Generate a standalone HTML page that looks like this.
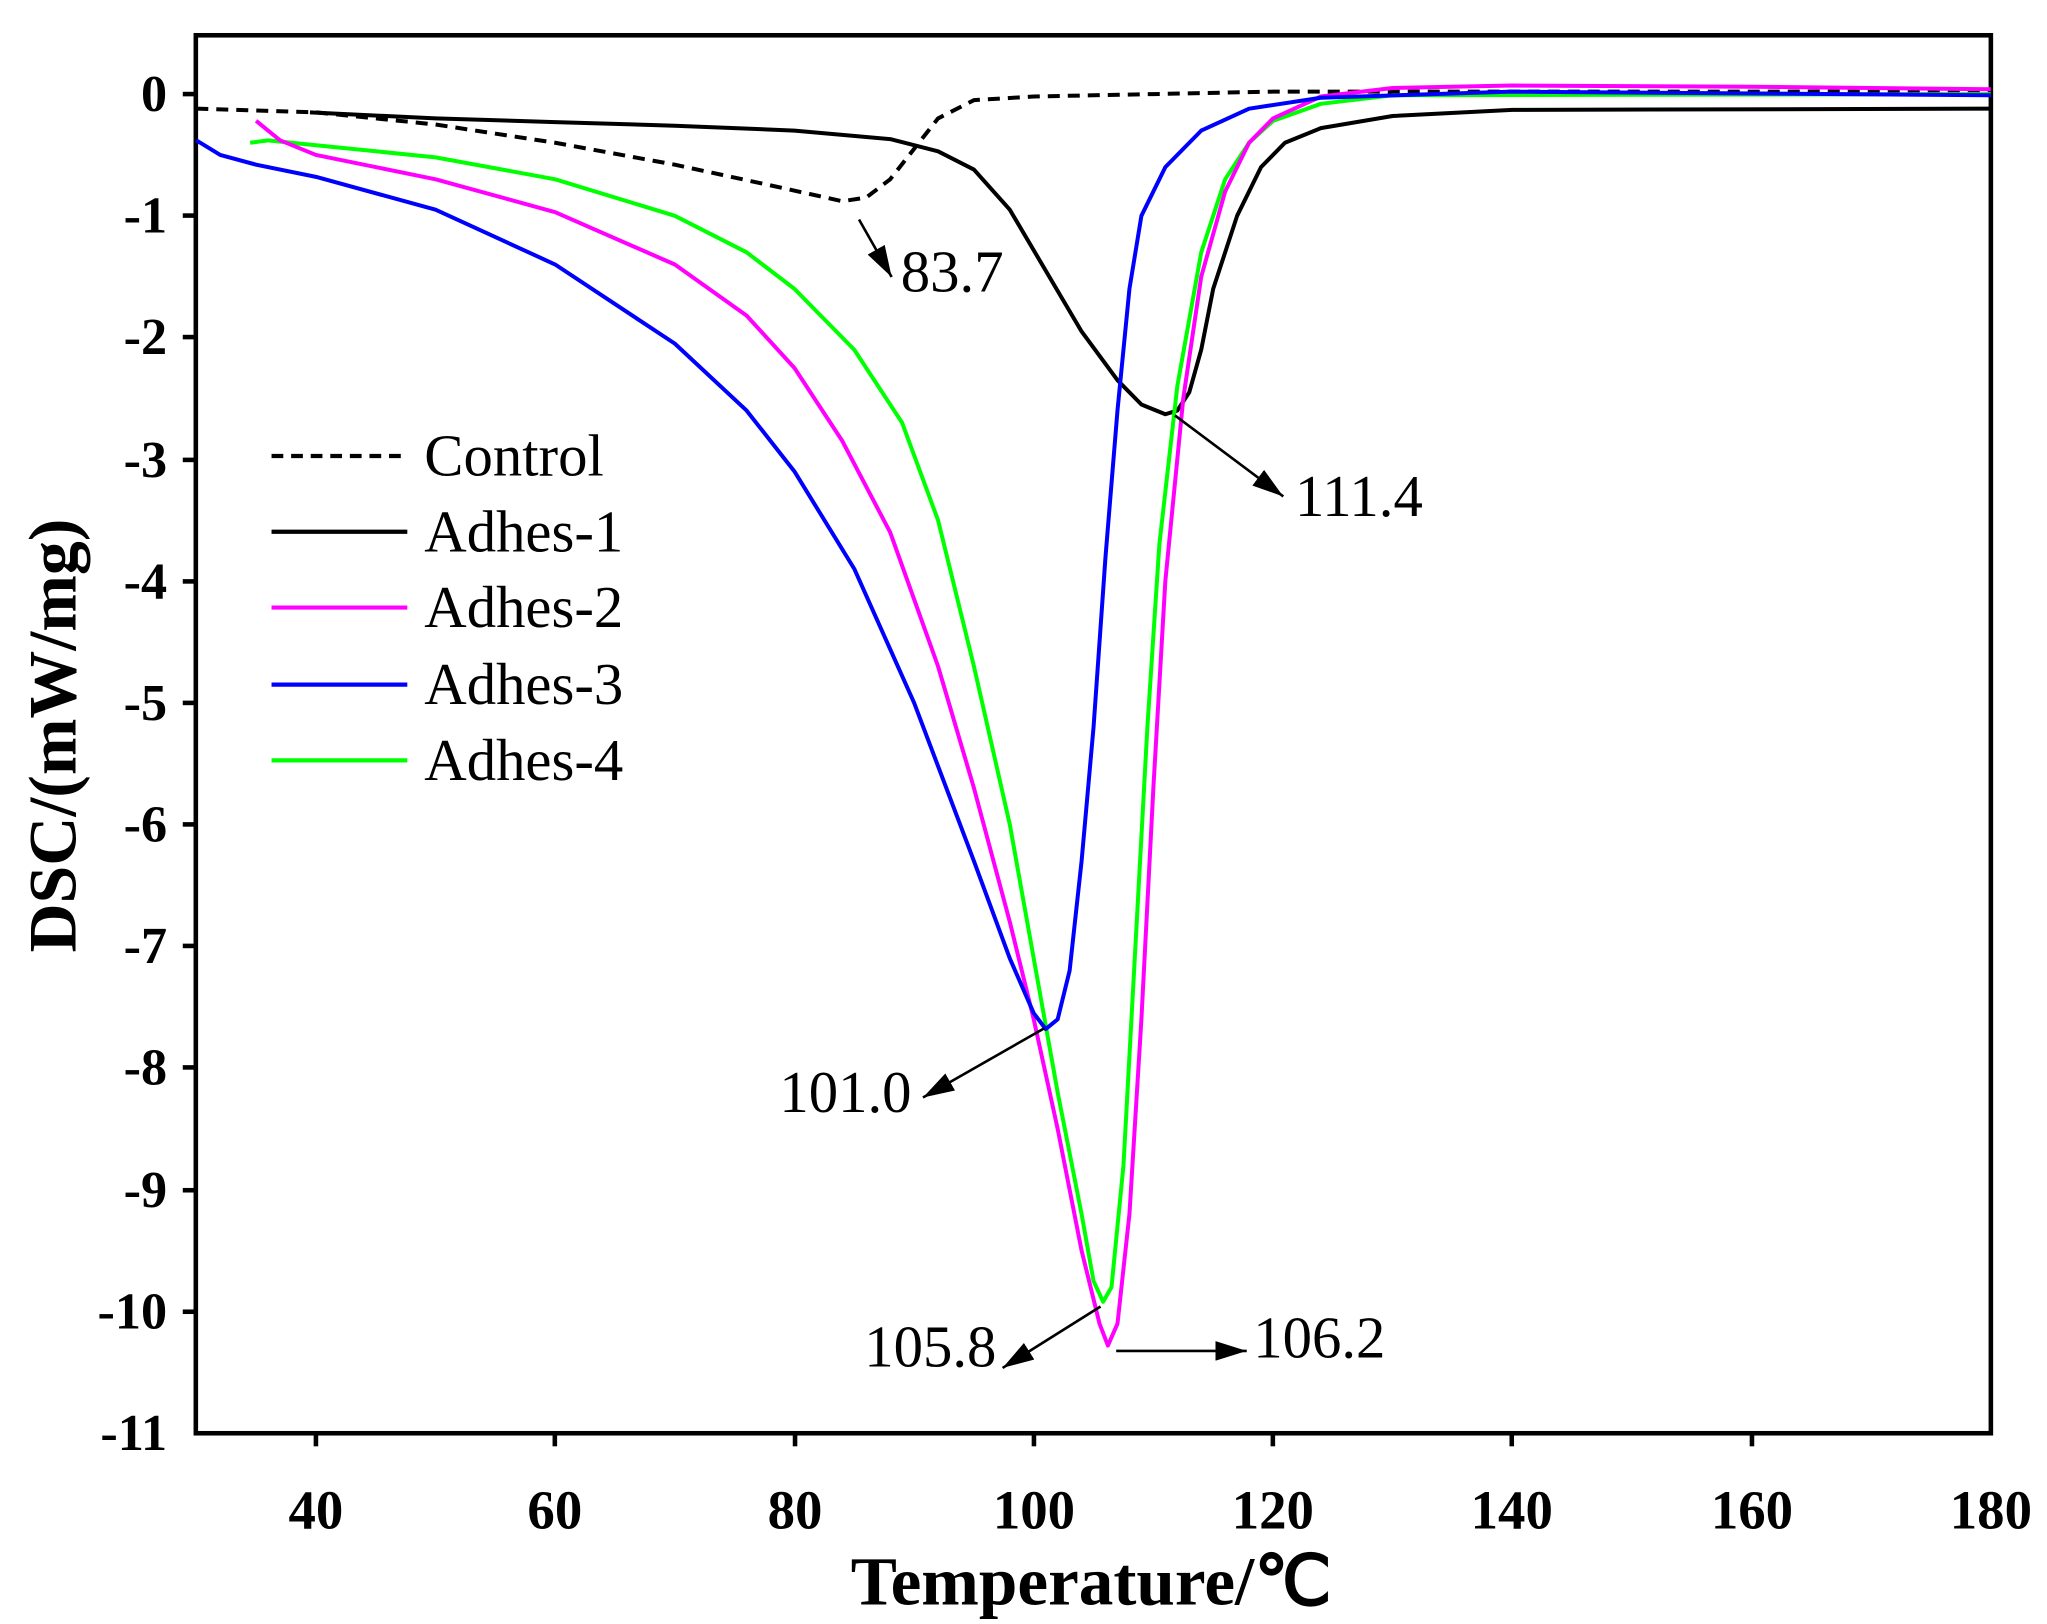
<!DOCTYPE html>
<html><head><meta charset="utf-8"><style>html,body{margin:0;padding:0;background:#fff}svg{display:block}</style></head><body>
<svg width="2047" height="1624" viewBox="0 0 1568 1243" preserveAspectRatio="none" xmlns="http://www.w3.org/2000/svg">
<defs>
<marker id="a2" viewBox="0 0 10 10" refX="10" refY="5" markerWidth="24" markerHeight="15" orient="auto" markerUnits="userSpaceOnUse" preserveAspectRatio="none"><path d="M0,0 L10,5 L0,10 z" fill="#000"/></marker></defs>
<rect x="150" y="27" width="1375" height="1070" fill="none" stroke="#000" stroke-width="3.5"/>
<g stroke="#000" stroke-width="3.5">
<line x1="242" y1="1097" x2="242" y2="1107"/><line x1="425" y1="1097" x2="425" y2="1107"/><line x1="609" y1="1097" x2="609" y2="1107"/><line x1="792" y1="1097" x2="792" y2="1107"/><line x1="975" y1="1097" x2="975" y2="1107"/><line x1="1158" y1="1097" x2="1158" y2="1107"/><line x1="1342" y1="1097" x2="1342" y2="1107"/>
<line x1="140" y1="72" x2="150" y2="72"/><line x1="140" y1="165" x2="150" y2="165"/><line x1="140" y1="258" x2="150" y2="258"/><line x1="140" y1="352" x2="150" y2="352"/><line x1="140" y1="445" x2="150" y2="445"/><line x1="140" y1="538" x2="150" y2="538"/><line x1="140" y1="631" x2="150" y2="631"/><line x1="140" y1="724" x2="150" y2="724"/><line x1="140" y1="817" x2="150" y2="817"/><line x1="140" y1="911" x2="150" y2="911"/><line x1="140" y1="1004" x2="150" y2="1004"/>
</g>
<g font-family="Liberation Serif, serif" font-weight="bold" font-size="40" text-anchor="end">
<text x="128" y="85">0</text><text x="128" y="178">-1</text><text x="128" y="271">-2</text><text x="128" y="365">-3</text><text x="128" y="458">-4</text><text x="128" y="551">-5</text><text x="128" y="644">-6</text><text x="128" y="737">-7</text><text x="128" y="830">-8</text><text x="128" y="924">-9</text><text x="128" y="1017">-10</text><text x="128" y="1110">-11</text>
</g>
<g font-family="Liberation Serif, serif" font-weight="bold" font-size="42" text-anchor="middle">
<text x="242" y="1170">40</text><text x="425" y="1170">60</text><text x="609" y="1170">80</text><text x="792" y="1170">100</text><text x="975" y="1170">120</text><text x="1158" y="1170">140</text><text x="1342" y="1170">160</text><text x="1525" y="1170">180</text>
<text x="836" y="1228" font-size="53">Temperature/℃</text>
<text transform="translate(58,563) rotate(-90)" font-size="52">DSC/(mW/mg)</text>
</g>
<g id="curves" transform="translate(-124.56,72) scale(9.164,-93.18)" fill="none" stroke-width="4" stroke-linejoin="round">
<polyline vector-effect="non-scaling-stroke" stroke="#000" stroke-dasharray="12,8" points="30,-0.12 40,-0.15 50,-0.25 60,-0.4 70,-0.58 78,-0.75 84,-0.88 86,-0.85 88,-0.7 90,-0.45 92,-0.2 95,-0.05 100,-0.02 110,0 120,0.02 140,0.02 180,0.02"/>
<polyline vector-effect="non-scaling-stroke" stroke="#000" points="39.5,-0.15 50,-0.2 60,-0.23 70,-0.26 80,-0.3 88,-0.37 92,-0.47 95,-0.62 98,-0.95 101,-1.45 104,-1.95 107,-2.35 109,-2.55 111,-2.63 112,-2.6 113,-2.45 114,-2.1 115,-1.6 117,-1 119,-0.6 121,-0.4 124,-0.28 130,-0.18 140,-0.13 180,-0.12"/>
<polyline vector-effect="non-scaling-stroke" stroke="#00ff00" points="34.5,-0.4 36,-0.38 40,-0.42 50,-0.52 60,-0.7 70,-1 76,-1.3 80,-1.6 85,-2.1 89,-2.7 92,-3.5 95,-4.7 98,-6 100,-7.1 102,-8.2 104,-9.2 105,-9.75 105.8,-9.92 106.5,-9.8 107.5,-8.8 108.5,-7 109.5,-5.2 110.5,-3.7 112,-2.4 114,-1.3 116,-0.7 118,-0.4 120,-0.22 124,-0.08 130,-0.01 180,0"/>
<polyline vector-effect="non-scaling-stroke" stroke="#ff00ff" points="35,-0.22 37,-0.38 40,-0.5 50,-0.7 60,-0.97 70,-1.4 76,-1.82 80,-2.25 84,-2.85 88,-3.6 92,-4.7 95,-5.7 98,-6.8 100,-7.6 102,-8.5 104,-9.5 105.5,-10.1 106.2,-10.28 107,-10.1 108,-9.2 109,-7.6 110,-5.7 111,-4 112.5,-2.5 114,-1.5 116,-0.8 118,-0.4 120,-0.2 124,-0.02 130,0.05 140,0.07 160,0.06 180,0.04"/>
<polyline vector-effect="non-scaling-stroke" stroke="#0000ff" points="30,-0.38 32,-0.5 35,-0.58 40,-0.68 50,-0.95 60,-1.4 70,-2.05 76,-2.6 80,-3.1 85,-3.9 90,-5 95,-6.3 98,-7.1 100,-7.55 101,-7.68 102,-7.6 103,-7.2 104,-6.3 105,-5.2 106,-3.8 107,-2.6 108,-1.6 109,-1 111,-0.6 114,-0.3 118,-0.12 124,-0.03 140,0.02 180,-0.01"/>
</g>
<g stroke-width="3.2">
<line x1="208" y1="349" x2="312" y2="349" stroke="#000" stroke-dasharray="9,6"/>
<line x1="208" y1="407" x2="312" y2="407" stroke="#000"/>
<line x1="208" y1="465" x2="312" y2="465" stroke="#ff00ff"/>
<line x1="208" y1="524" x2="312" y2="524" stroke="#0000ff"/>
<line x1="208" y1="582" x2="312" y2="582" stroke="#00ff00"/>
</g>
<g font-family="Liberation Serif, serif" font-size="45">
<text x="325" y="364">Control</text><text x="325" y="422">Adhes-1</text><text x="325" y="480">Adhes-2</text><text x="325" y="539">Adhes-3</text><text x="325" y="597">Adhes-4</text>
</g>
<g stroke="#000" stroke-width="2" marker-end="url(#a2)">
<line x1="658" y1="168" x2="683" y2="212"/>
<line x1="900" y1="318" x2="983" y2="380"/>
<line x1="800" y1="787" x2="707" y2="840"/>
<line x1="843" y1="1000" x2="768" y2="1047"/>
<line x1="855" y1="1034" x2="955" y2="1034"/>
</g>
<g font-family="Liberation Serif, serif" font-size="45">
<text x="690" y="223">83.7</text><text x="992" y="395">111.4</text><text x="597" y="851">101.0</text><text x="662" y="1046">105.8</text><text x="960" y="1039">106.2</text>
</g>
<script>
document.querySelectorAll('#curves polyline').forEach(function(pl){
var p=pl.getAttribute('points').trim().split(/\s+/).map(function(s){return s.split(',').map(Number)});
var d='M'+p[0][0]+','+p[0][1];
for(var i=0;i<p.length-1;i++){var p0=p[i-1]||p[i],p1=p[i],p2=p[i+1],p3=p[i+2]||p2;
d+=' C'+(p1[0]+(p2[0]-p0[0])/6)+','+(p1[1]+(p2[1]-p0[1])/6)+' '+(p2[0]-(p3[0]-p1[0])/6)+','+(p2[1]-(p3[1]-p1[1])/6)+' '+p2[0]+','+p2[1];}
var path=document.createElementNS('http://www.w3.org/2000/svg','path');
['vector-effect','stroke','stroke-dasharray'].forEach(function(a){if(pl.getAttribute(a))path.setAttribute(a,pl.getAttribute(a));});
path.setAttribute('d',d);pl.parentNode.replaceChild(path,pl);});
</script>
</svg>
</body></html>
